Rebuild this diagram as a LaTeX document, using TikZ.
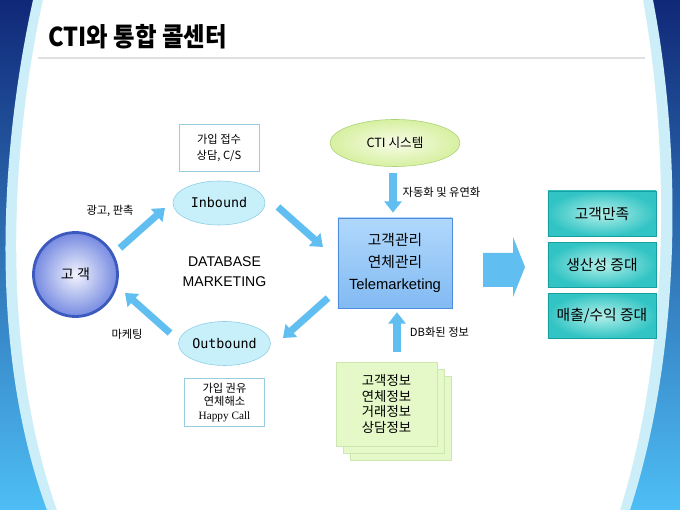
\documentclass[tikz,border=0pt]{standalone}
\usepackage{fontspec}
\setmainfont{Noto Sans CJK KR}
\newfontfamily\titlefont[FakeStretch=0.9]{Noto Sans CJK KR}
\newfontfamily\arialfont{Liberation Sans}
\newfontfamily\timesfont{Liberation Serif}
\newfontfamily\gulimche{DejaVu Sans Mono}
\usetikzlibrary{positioning, arrows.meta,
calc, % arrow ends set next to the nodes
shapes.geometric, % ellipses
shadows % stacked sheets under the data box
}

\definecolor{bgnavy}{RGB}{16,40,120}
\definecolor{bgmid}{RGB}{40,112,212}
\definecolor{bgsky}{RGB}{78,190,245}
\definecolor{bgband}{RGB}{204,238,248}
\definecolor{skyarrow}{RGB}{96,190,240}
\definecolor{noteline}{RGB}{150,205,225}
\definecolor{chline}{RGB}{140,205,230}
\definecolor{chfill}{RGB}{200,240,250}
\definecolor{tealedge}{RGB}{50,196,196}
\definecolor{tealin}{RGB}{180,240,234}
\definecolor{tealline}{RGB}{24,160,160}
\definecolor{memogreen}{RGB}{228,248,200}
\definecolor{memoline}{RGB}{205,232,175}
\definecolor{kundein}{RGB}{242,244,253}
\definecolor{kundeout}{RGB}{118,138,225}
\definecolor{kundeline}{RGB}{60,90,190}
\definecolor{tmtop}{RGB}{176,216,252}
\definecolor{tmbot}{RGB}{130,186,242}
\definecolor{tmline}{RGB}{80,140,220}
\definecolor{ctiin}{RGB}{248,252,232}
\definecolor{ctiout}{RGB}{214,240,160}
\definecolor{ctiline}{RGB}{170,210,120}

\begin{document}
\begin{tikzpicture}[x=0.025cm, y=-0.025cm, node distance=0.1375cm,
  fat/.style={line width=5pt, draw=skyarrow, -{Triangle[length=8pt, width=12pt]}},
  lbl/.style={font=\fontsize{8}{9}\selectfont, inner sep=1pt},
  note/.style={draw=noteline, fill=white, align=center, minimum width=2cm,
    minimum height=1.175cm},
  channel/.style={ellipse, draw=chline, fill=chfill, minimum width=2.3cm,
    minimum height=1.1cm, inner sep=0pt, font=\gulimche\fontsize{9.5}{10}\selectfont},
  goal/.style={draw=tealline, shade, inner color=tealin, outer color=tealedge,
    minimum width=2.7cm, minimum height=1.125cm, font=\fontsize{10.5}{12}\selectfont}]
  \useasboundingbox (0,0) rectangle (680,510);
  \clip (0,0) rectangle (680,510);

  % slide background
  \shade[top color=bgnavy, middle color=bgmid, bottom color=bgsky] (0,0) rectangle (680,510);
  \fill[bgband] (33,0) .. controls (0,150) and (-12,350) .. (47,510) -- (630,510)
    .. controls (682,350) and (682,150) .. (653,0) -- cycle;
  \fill[white] (43,0) .. controls (10,150) and (0,350) .. (57,510) -- (620,510)
    .. controls (670,350) and (670,150) .. (643,0) -- cycle;

  \node[anchor=west, inner sep=0pt, font=\titlefont\bfseries\fontsize{18.5}{20}\selectfont]
    (title) at (48,37) {CTI와 통합 콜센터};
  \draw[black!12, line width=1.2pt] (38,58) -- (645,58);

  \node[circle, draw=kundeline, line width=2pt, shade, inner color=kundein,
    outer color=kundeout, minimum size=2.1cm, font=\fontsize{10}{12}\selectfont]
    (kunde) at (75.5,274.5) {고 객};

  \node[channel] (inb) at (219,203) {Inbound};
  \node[channel] (outb) at (224.5,343.5) {Outbound};
  \node[note, above=0.225cm of inb, font=\fontsize{8}{12}\selectfont] (inbnote) {가입 접수\\상담, C/S};
  \node[note, below=0.3cm of outb, font=\fontsize{8}{9.8}\selectfont] (outbnote)
    {가입 권유\\연체해소\\{\timesfont Happy Call}};
  \node[align=center, font=\arialfont\fontsize{10}{14.2}\selectfont] (dbm) at (224.5,272)
    {DATABASE\\MARKETING};

  \node[draw=tmline, top color=tmtop, bottom color=tmbot, minimum width=2.85cm,
    minimum height=2.25cm, align=center, font=\fontsize{10.5}{15.6}\selectfont]
    (tm) at (395,263) {고객관리\\연체관리\\{\arialfont Telemarketing}};
  \node[ellipse, draw=ctiline, shade, inner color=ctiin, outer color=ctiout,
    minimum width=3.25cm, minimum height=1.175cm, font=\fontsize{9}{10}\selectfont]
    (cti) at (395,143) {CTI 시스템};
  \node[fill=memogreen, draw=memoline,
    double copy shadow={shadow xshift=0.175cm, shadow yshift=-0.175cm},
    minimum width=2.53cm, minimum height=2.1cm, align=center,
    font=\fontsize{9.5}{11.3}\selectfont] (info) at (386.5,404)
    {고객정보\\연체정보\\거래정보\\상담정보};

  \node[goal] (g1) at (602,213.5) {고객만족};
  \node[goal, below=of g1] (g2) {생산성 증대};
  \node[goal, below=of g2] (g3) {매출/수익 증대};

  \draw[fat] ($(kunde)+(44.5,-26.5)$) -- ($(inb)+(-54,5)$)
    node[lbl, midway, above left=0.15cm and 0.1cm] {광고, 판촉};
  \draw[fat] ($(inb)+(59,4)$) -- ($(tm)+(-72,-16)$);
  \draw[fat] ($(tm)+(-67,35)$) -- ($(outb)+(58.5,-5.5)$);
  \draw[fat] ($(outb)+(-54.5,-10.5)$) -- ($(kunde)+(49.5,18.5)$)
    node[lbl, midway, below left=0.275cm and 0cm] {마케팅};
  \draw[fat] ($(cti.south)+(-2,6)$) -- ($(tm.north)+(-2,-5)$)
    node[lbl, midway, right=0.12cm] {자동화 및 유연화};
  \draw[fat] ($(tm.south |- info.north)+(2,-10)$) -- ($(tm.south)+(2,4)$)
    node[lbl, midway, right=0.2cm] {DB화된 정보};

  % big arrow towards the results
  \fill[skyarrow] (483,253) -- (513,253) -- (513,237) -- (525,267) -- (513,297)
    -- (513,287) -- (483,287) -- cycle;
\end{tikzpicture}
\end{document}
